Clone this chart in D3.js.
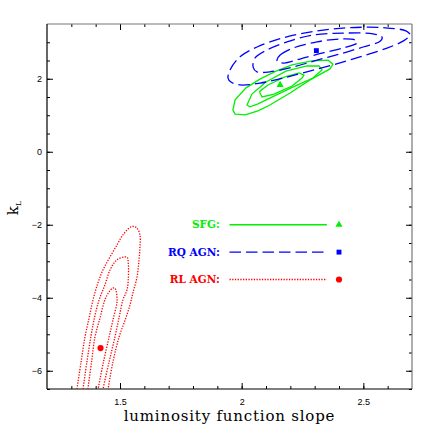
<!DOCTYPE html>
<html>
<head>
<meta charset="utf-8">
<script src="https://cdn.jsdelivr.net/npm/d3@7"></script>
<style>
  body { margin: 0; background: #fff; }
  .tick text { font-family: "Liberation Sans", Arial, sans-serif; font-size: 9px; fill: #000; }
  .tick line { stroke: #000; }
</style>
</head>
<body>
<div id="chart"></div>
<script>
// contour data: [slope, kL]
var sfgContours = [
  [[1.964,1.14],[1.973,1.42],[2.018,1.75],[2.075,1.99],[2.141,2.21],[2.207,2.38],[2.289,2.49],[2.355,2.51],
   [2.375,2.40],[2.363,2.27],[2.281,1.97],[2.199,1.61],[2.116,1.28],[2.067,1.12],[2.014,1.01],[1.973,1.03]],
  [[2.022,1.28],[2.042,1.58],[2.100,1.91],[2.182,2.21],[2.268,2.35],[2.318,2.35],[2.330,2.24],[2.293,2.02],
   [2.203,1.75],[2.116,1.47],[2.067,1.31],[2.034,1.23]],
  [[2.075,1.61],[2.084,1.50],[2.133,1.58],[2.207,1.80],[2.248,2.02],[2.256,2.10],[2.236,2.16],[2.178,2.05],
   [2.108,1.83],[2.075,1.66]]
];

var rqContours = [
  [[1.944,2.02],[1.952,2.24],[1.993,2.60],[2.063,2.87],[2.170,3.12],[2.310,3.31],[2.445,3.40],[2.581,3.40],
   [2.675,3.31],[2.692,3.20],[2.663,3.03],[2.597,2.84],[2.486,2.60],[2.375,2.38],[2.268,2.19],[2.170,2.02],
   [2.075,1.88],[1.993,1.83],[1.956,1.91]],
  [[2.047,2.32],[2.055,2.57],[2.104,2.79],[2.186,3.01],[2.293,3.20],[2.416,3.25],[2.540,3.23],[2.577,3.14],
   [2.569,3.03],[2.499,2.87],[2.404,2.68],[2.310,2.51],[2.211,2.32],[2.116,2.19],[2.063,2.19]],
  [[2.145,2.51],[2.158,2.65],[2.211,2.84],[2.310,3.01],[2.404,3.09],[2.466,3.06],[2.474,2.98],[2.416,2.84],
   [2.334,2.71],[2.240,2.54],[2.174,2.43],[2.149,2.46]]
];

var rlContours = [
  [[1.323,-6.5],[1.340,-5.76],[1.356,-5.08],[1.373,-4.55],[1.389,-4.06],[1.409,-3.60],[1.430,-3.24],[1.459,-2.88],
   [1.488,-2.55],[1.512,-2.28],[1.548,-2.05],[1.568,-2.08],[1.582,-2.28],[1.582,-2.61],[1.578,-2.97],[1.570,-3.43],
   [1.553,-3.87],[1.541,-4.20],[1.521,-4.61],[1.496,-5.08],[1.471,-5.76],[1.451,-6.5]],
  [[1.348,-6.5],[1.364,-5.76],[1.380,-5.08],[1.395,-4.55],[1.414,-4.06],[1.438,-3.65],[1.459,-3.24],[1.486,-2.97],
   [1.518,-2.88],[1.530,-2.90],[1.534,-3.05],[1.534,-3.51],[1.528,-3.80],[1.512,-4.06],[1.496,-4.55],[1.479,-5.08],
   [1.455,-5.76],[1.430,-6.5]],
  [[1.368,-6.5],[1.383,-5.76],[1.397,-5.08],[1.418,-4.55],[1.438,-4.06],[1.455,-3.84],[1.469,-3.74],[1.479,-3.74],
   [1.488,-4.06],[1.471,-4.61],[1.455,-5.08],[1.432,-5.76],[1.410,-6.5]]
];

// best fit points
var bestFit = [
  {name: "SFG", x: 2.158, y: 1.83},
  {name: "RQ AGN", x: 2.307, y: 2.77},
  {name: "RL AGN", x: 1.420, y: -5.38}
];

var legendLabels = ["SFG:", "RQ AGN:", "RL AGN:"];

var xMajorTicks = [1.5, 2, 2.5];
var yMajorTicks = [-6, -4, -2, 0, 2];

var svgWidth = 436;
var svgHeight = 436;

var margin = {
  top: 24,
  right: 24,
  bottom: 47,
  left: 47
};

var width = svgWidth - margin.left - margin.right;
var height = svgHeight - margin.top - margin.bottom;

var colors = ["#00f000", "#0000ff", "#ff0000"];
var dashes = [null, "11.5,5", "1.3,1.4"];
var symbols = [d3.symbolTriangle, d3.symbolSquare, d3.symbolCircle];
var symbolSizes = [22, 24, 30];

var svg = d3.select("#chart")
  .append("svg")
  .attr("width", svgWidth)
  .attr("height", svgHeight);

var chartGroup = svg.append("g")
  .attr("transform", `translate(${margin.left}, ${margin.top})`);

var xScale = d3.scaleLinear()
  .domain([1.2, 2.7])
  .range([0, width]);

var yScale = d3.scaleLinear()
  .domain([-6.5, 3.5])
  .range([height, 0]);

var xMinor = d3.range(13, 27).map(d => d / 10);
var yMinor = d3.range(-13, 7).map(d => d / 2);

// ticks on all four sides, drawn inwards
function addAxis(axis, transform) {
  var g = chartGroup.append("g").attr("transform", transform).call(axis);
  g.select(".domain").remove();
  return g;
}

addAxis(d3.axisBottom(xScale).tickValues(xMinor).tickSize(-3).tickFormat(""), `translate(0, ${height})`);
addAxis(d3.axisTop(xScale).tickValues(xMinor).tickSize(-3).tickFormat(""), "translate(0,0)");
addAxis(d3.axisLeft(yScale).tickValues(yMinor).tickSize(-3).tickFormat(""), "translate(0,0)");
addAxis(d3.axisRight(yScale).tickValues(yMinor).tickSize(-3).tickFormat(""), `translate(${width},0)`);

addAxis(d3.axisBottom(xScale).tickValues(xMajorTicks).tickSize(-6).tickPadding(10).tickFormat(d3.format("")), `translate(0, ${height})`);
addAxis(d3.axisTop(xScale).tickValues(xMajorTicks).tickSize(-6).tickFormat(""), "translate(0,0)");
addAxis(d3.axisLeft(yScale).tickValues(yMajorTicks).tickSize(-6).tickPadding(5).tickFormat(d3.format("")), "translate(0,0)");
addAxis(d3.axisRight(yScale).tickValues(yMajorTicks).tickSize(-6).tickFormat(""), `translate(${width},0)`);

// frame
chartGroup.append("line").attr("x1", 0).attr("x2", width).attr("y1", 0).attr("y2", 0)
  .attr("stroke", "#777").attr("stroke-width", 1.2);
chartGroup.append("line").attr("x1", width).attr("x2", width).attr("y1", 0).attr("y2", height)
  .attr("stroke", "#777").attr("stroke-width", 1.2);
chartGroup.append("line").attr("x1", 0).attr("x2", 0).attr("y1", 0).attr("y2", height)
  .attr("stroke", "#000").attr("stroke-width", 1.2);
chartGroup.append("line").attr("x1", 0).attr("x2", width).attr("y1", height).attr("y2", height)
  .attr("stroke", "#000").attr("stroke-width", 1.2);

// clip for contours
svg.append("defs").append("clipPath").attr("id", "plotClip")
  .append("rect").attr("width", width).attr("height", height);

var plotArea = chartGroup.append("g").attr("clip-path", "url(#plotClip)");

var closedLinear = d3.line().x(d => xScale(d[0])).y(d => yScale(d[1])).curve(d3.curveLinearClosed);
var closedSmooth = d3.line().x(d => xScale(d[0])).y(d => yScale(d[1])).curve(d3.curveCatmullRomClosed);
var openSmooth = d3.line().x(d => xScale(d[0])).y(d => yScale(d[1])).curve(d3.curveCatmullRom);

var contourSets = [
  {data: sfgContours, gen: closedLinear},
  {data: rqContours, gen: closedSmooth},
  {data: rlContours, gen: openSmooth}
];

contourSets.forEach(function(set, i) {
  plotArea.selectAll(null)
    .data(set.data)
    .enter()
    .append("path")
    .attr("d", set.gen)
    .attr("fill", "none")
    .attr("stroke", colors[i])
    .attr("stroke-width", 1.3)
    .attr("stroke-dasharray", dashes[i]);
});

// best fit markers
chartGroup.selectAll(".best")
  .data(bestFit)
  .enter()
  .append("path")
  .attr("class", "best")
  .attr("transform", d => `translate(${xScale(d.x)}, ${yScale(d.y)})`)
  .attr("d", (d, i) => d3.symbol().type(symbols[i]).size(symbolSizes[i])())
  .attr("fill", (d, i) => colors[i]);

// legend
var legendY = [-2, -2.75, -3.5];
var legend = chartGroup.selectAll(".legend")
  .data(legendLabels)
  .enter()
  .append("g")
  .attr("class", "legend")
  .attr("transform", (d, i) => `translate(0, ${yScale(legendY[i])})`);

legend.append("text")
  .attr("x", xScale(1.91))
  .attr("dy", "0.35em")
  .attr("text-anchor", "end")
  .attr("font-family", "'DejaVu Serif', serif")
  .attr("font-weight", "bold")
  .attr("font-size", "10.5px")
  .attr("fill", (d, i) => colors[i])
  .text(d => d);

legend.append("line")
  .attr("x1", xScale(1.95))
  .attr("x2", xScale(2.35))
  .attr("stroke", (d, i) => colors[i])
  .attr("stroke-width", 1.3)
  .attr("stroke-dasharray", (d, i) => dashes[i]);

legend.append("path")
  .attr("transform", `translate(${xScale(2.4)}, 0)`)
  .attr("d", (d, i) => d3.symbol().type(symbols[i]).size(symbolSizes[i])())
  .attr("fill", (d, i) => colors[i]);

// axis labels
chartGroup.append("text")
  .attr("x", width / 2)
  .attr("y", height + 32)
  .attr("text-anchor", "middle")
  .attr("font-family", "'DejaVu Serif', serif")
  .attr("font-size", "15px")
  .attr("letter-spacing", "0.8px")
  .attr("fill", "#000")
  .text("luminosity function slope");

var yLabel = svg.append("text")
  .attr("transform", "translate(18, 208) rotate(-90)")
  .attr("text-anchor", "middle")
  .attr("font-family", "'DejaVu Serif', serif")
  .attr("font-size", "15px")
  .attr("fill", "#000");
yLabel.append("tspan").text("k");
yLabel.append("tspan").attr("font-size", "8px").attr("dy", "3").text("L");
</script>
</body>
</html>
